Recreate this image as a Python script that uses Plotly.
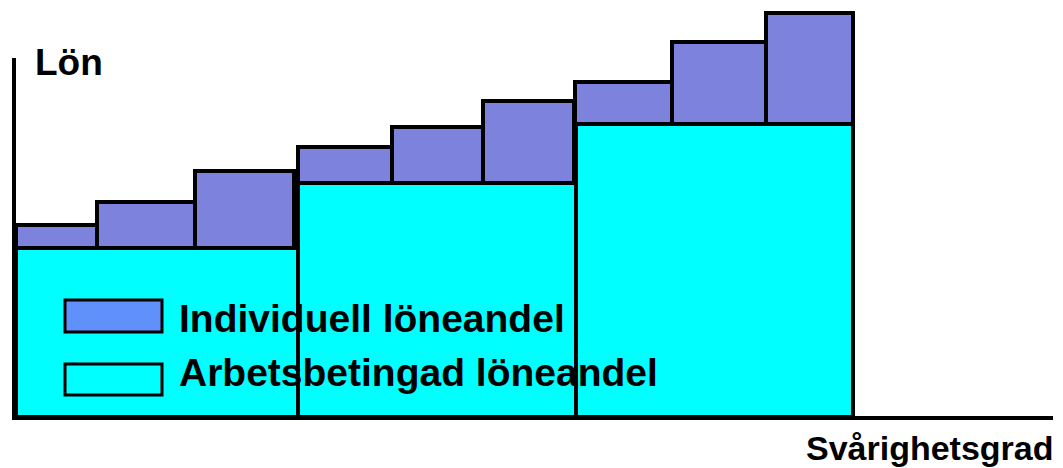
import plotly.graph_objects as go

# ---- data (units: 1 unit ~ 1 px in the reference, origin at lower-left of the chart) ----
# three difficulty levels (Svårighetsgrad): job-based wage part (Arbetsbetingad löneandel)
level_left = [0, 282, 560]
level_right = [282, 560, 837]
job_wage = [169, 234, 293]

# three individual steps per level: individual wage part on top (Individuell löneandel)
step_left = [0, 81, 179, 282, 376, 467, 559, 656, 750]
step_right = [81, 179, 278, 376, 467, 558, 656, 750, 837]
step_level = [0, 0, 0, 1, 1, 1, 2, 2, 2]
step_total = [192, 215, 246, 270, 290, 316, 335, 375, 404]

legend_labels = ["Individuell löneandel", "Arbetsbetingad löneandel"]
y_title = "Lön"
x_title = "Svårighetsgrad"

CYAN = "#00FFFF"
PURPLE = "#7D82DD"
LEGEND_PURPLE = "#6090FA"
FONT = "Arial, Liberation Sans, sans-serif"

fig = go.Figure()

fig.add_trace(go.Bar(
    x=[(a + b) / 2 for a, b in zip(level_left, level_right)],
    width=[b - a for a, b in zip(level_left, level_right)],
    y=job_wage,
    base=0,
    marker=dict(color=CYAN, line=dict(color="black", width=4)),
    showlegend=False,
))

bases = [job_wage[l] for l in step_level]
fig.add_trace(go.Bar(
    x=[(a + b) / 2 for a, b in zip(step_left, step_right)],
    width=[b - a for a, b in zip(step_left, step_right)],
    y=[t - b for t, b in zip(step_total, bases)],
    base=bases,
    marker=dict(color=PURPLE, line=dict(color="black", width=4)),
    showlegend=False,
))

# axis lines
fig.add_shape(type="line", x0=-4, x1=1037, y0=-1, y1=-1,
              line=dict(color="black", width=4), layer="above")
fig.add_shape(type="line", x0=-2, x1=-2, y0=-1, y1=359,
              line=dict(color="black", width=4), layer="above")

# custom legend inside the chart
sw_x0, sw_x1 = 49, 146
fig.add_shape(type="rect", x0=sw_x0, x1=sw_x1, y0=85, y1=117,
              fillcolor=LEGEND_PURPLE, line=dict(color="black", width=3), layer="above")
fig.add_shape(type="rect", x0=sw_x0, x1=sw_x1, y0=22, y1=53,
              fillcolor=CYAN, line=dict(color="black", width=3), layer="above")
fig.add_annotation(x=161, y=99, text=legend_labels[0], showarrow=False,
                   xanchor="left", yanchor="middle",
                   font=dict(family=FONT, size=39, color="black", weight="bold"))
fig.add_annotation(x=161, y=45, text=legend_labels[1], showarrow=False,
                   xanchor="left", yanchor="middle",
                   font=dict(family=FONT, size=39, color="black", weight="bold"))

# axis titles
fig.add_annotation(x=17, y=355, text=y_title, showarrow=False,
                   xanchor="left", yanchor="middle",
                   font=dict(family=FONT, size=37, color="black", weight="bold"))
fig.add_annotation(x=1040, y=-31, text=x_title, showarrow=False,
                   xanchor="right", yanchor="middle",
                   font=dict(family=FONT, size=34, color="black", weight="bold"))

fig.update_layout(
    width=1063, height=468,
    margin=dict(l=0, r=0, t=0, b=0),
    paper_bgcolor="white", plot_bgcolor="white",
    barmode="overlay",
    bargap=0,
    xaxis=dict(range=[-16, 1047], visible=False, fixedrange=True),
    yaxis=dict(range=[-51, 417], visible=False, fixedrange=True),
)

fig.write_html("out.html", config={"displayModeBar": False},
               post_script="document.body.style.margin='0';document.body.style.overflow='hidden';")
